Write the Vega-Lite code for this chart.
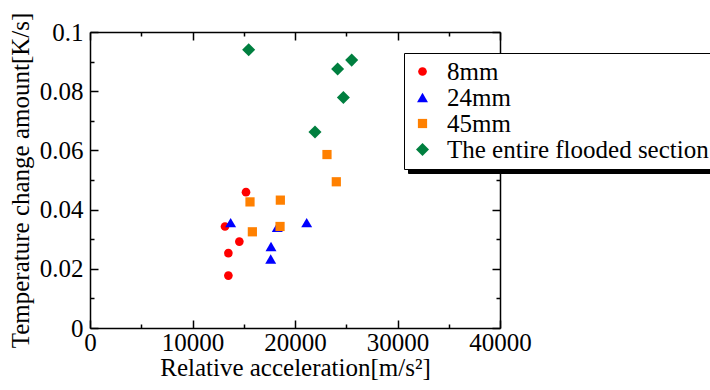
{
  "$schema": "https://vega.github.io/schema/vega-lite/v6.json",
  "autosize": {"type": "none"},
  "padding": {"left": 90, "top": 32, "right": 210, "bottom": 62},
  "width": 410,
  "height": 296,
  "background": "white",
  "config": {
    "view": {"stroke": null},
    "font": "Liberation Serif",
    "axis": {"grid": false, "domainColor": "black", "tickColor": "black", "domainWidth": 1.5, "tickWidth": 1.5, "labelFont": "Liberation Serif", "labelFontSize": 25, "labelColor": "black", "titleFont": "Liberation Serif", "titleFontSize": 25, "titleFontWeight": "normal", "titleColor": "black"}
  },
  "data": {"values": [
    {"acc": 15220, "temp": 0.0459, "group": "8mm"},
    {"acc": 13170, "temp": 0.0343, "group": "8mm"},
    {"acc": 14570, "temp": 0.0292, "group": "8mm"},
    {"acc": 13500, "temp": 0.0253, "group": "8mm"},
    {"acc": 13500, "temp": 0.0177, "group": "8mm"},
    {"acc": 13720, "temp": 0.0356, "group": "24mm"},
    {"acc": 18270, "temp": 0.0340, "group": "24mm"},
    {"acc": 21140, "temp": 0.0356, "group": "24mm"},
    {"acc": 17660, "temp": 0.0275, "group": "24mm"},
    {"acc": 17630, "temp": 0.0233, "group": "24mm"},
    {"acc": 24030, "temp": 0.0494, "group": "45mm"},
    {"acc": 15610, "temp": 0.0426, "group": "45mm"},
    {"acc": 18570, "temp": 0.0432, "group": "45mm"},
    {"acc": 18540, "temp": 0.0343, "group": "45mm"},
    {"acc": 15840, "temp": 0.0325, "group": "45mm"},
    {"acc": 23120, "temp": 0.0586, "group": "45mm"},
    {"acc": 15480, "temp": 0.0940, "group": "The entire flooded section"},
    {"acc": 25530, "temp": 0.0905, "group": "The entire flooded section"},
    {"acc": 24160, "temp": 0.0875, "group": "The entire flooded section"},
    {"acc": 24720, "temp": 0.0779, "group": "The entire flooded section"},
    {"acc": 21950, "temp": 0.0662, "group": "The entire flooded section"}
  ]},
  "resolve": {"axis": {"x": "independent", "y": "independent"}},
  "layer": [
    {
      "mark": {"type": "point", "opacity": 0},
      "encoding": {
        "x": {"field": "acc", "type": "quantitative", "scale": {"domain": [0, 40000], "nice": false, "zero": false},
          "axis": {"orient": "top", "labels": false, "title": null, "values": [0, 10000, 20000, 30000, 40000], "tickSize": -8}},
        "y": {"field": "temp", "type": "quantitative", "scale": {"domain": [0, 0.1], "nice": false, "zero": false},
          "axis": {"orient": "right", "labels": false, "title": null, "values": [0, 0.02, 0.04, 0.06, 0.08, 0.1], "tickSize": -8}},
        "strokeWidth": {"field": "group", "type": "nominal",
          "scale": {"type": "ordinal", "domain": ["The entire flooded section", "45mm", "24mm", "8mm"], "range": [1, 1, 1, 1]},
          "legend": {"title": null, "orient": "none", "legendX": 318, "legendY": 25, "zindex": 0, "strokeColor": "black", "fillColor": "black", "padding": 6, "labelFont": "Liberation Serif", "labelFontSize": 25, "labelColor": "black", "symbolOpacity": 0, "symbolSize": 60, "rowPadding": -3.5, "labelOffset": 12, "labelLimit": 400}}
      }
    },
    {
      "mark": {"type": "point", "opacity": 0},
      "encoding": {
        "x": {"field": "acc", "type": "quantitative",
          "axis": {"orient": "bottom", "labels": false, "title": null, "domain": false, "values": [5000, 15000, 25000, 35000], "tickSize": -4}},
        "y": {"field": "temp", "type": "quantitative",
          "axis": {"orient": "left", "labels": false, "title": null, "domain": false, "values": [0.01, 0.03, 0.05, 0.07, 0.09], "tickSize": -4}}
      }
    },
    {
      "mark": {"type": "point", "opacity": 0},
      "encoding": {
        "x": {"field": "acc", "type": "quantitative",
          "axis": {"orient": "top", "labels": false, "title": null, "domain": false, "values": [5000, 15000, 25000, 35000], "tickSize": -4}},
        "y": {"field": "temp", "type": "quantitative",
          "axis": {"orient": "right", "labels": false, "title": null, "domain": false, "values": [0.01, 0.03, 0.05, 0.07, 0.09], "tickSize": -4}}
      }
    },
    {
      "mark": {"type": "point", "filled": true, "opacity": 1},
      "encoding": {
        "x": {"field": "acc", "type": "quantitative",
          "axis": {"orient": "bottom", "title": "Relative acceleration[m/s²]", "values": [0, 10000, 20000, 30000, 40000], "format": "d", "tickSize": -8, "labelPadding": 10, "titlePadding": 0, "labelFlush": false, "labelOverlap": false}},
        "y": {"field": "temp", "type": "quantitative",
          "axis": {"orient": "left", "title": "Temperature change amount[K/s]", "values": [0, 0.02, 0.04, 0.06, 0.08, 0.1], "format": ".2~f", "tickSize": -8, "labelPadding": 15, "titlePadding": 6, "labelFlush": false, "labelOverlap": false}},
        "color": {"field": "group", "type": "nominal",
          "scale": {"domain": ["8mm", "24mm", "45mm", "The entire flooded section"], "range": ["#ff0000", "#0000ff", "#ff8000", "#007f3f"]},
          "legend": {"title": null, "orient": "none", "legendX": 314, "legendY": 21, "zindex": 1, "strokeColor": "black", "fillColor": "white", "padding": 6, "labelFont": "Liberation Serif", "labelFontSize": 25, "labelColor": "black", "symbolSize": 60, "rowPadding": -3.5, "labelOffset": 12, "labelLimit": 400}},
        "shape": {"field": "group", "type": "nominal",
          "scale": {"domain": ["8mm", "24mm", "45mm", "The entire flooded section"], "range": ["circle", "triangle-up", "square", "diamond"]},
          "legend": null},
        "size": {"field": "group", "type": "nominal",
          "scale": {"type": "ordinal", "domain": ["8mm", "24mm", "45mm", "The entire flooded section"], "range": [75, 120, 85, 170]},
          "legend": null}
      }
    }
  ]
}
